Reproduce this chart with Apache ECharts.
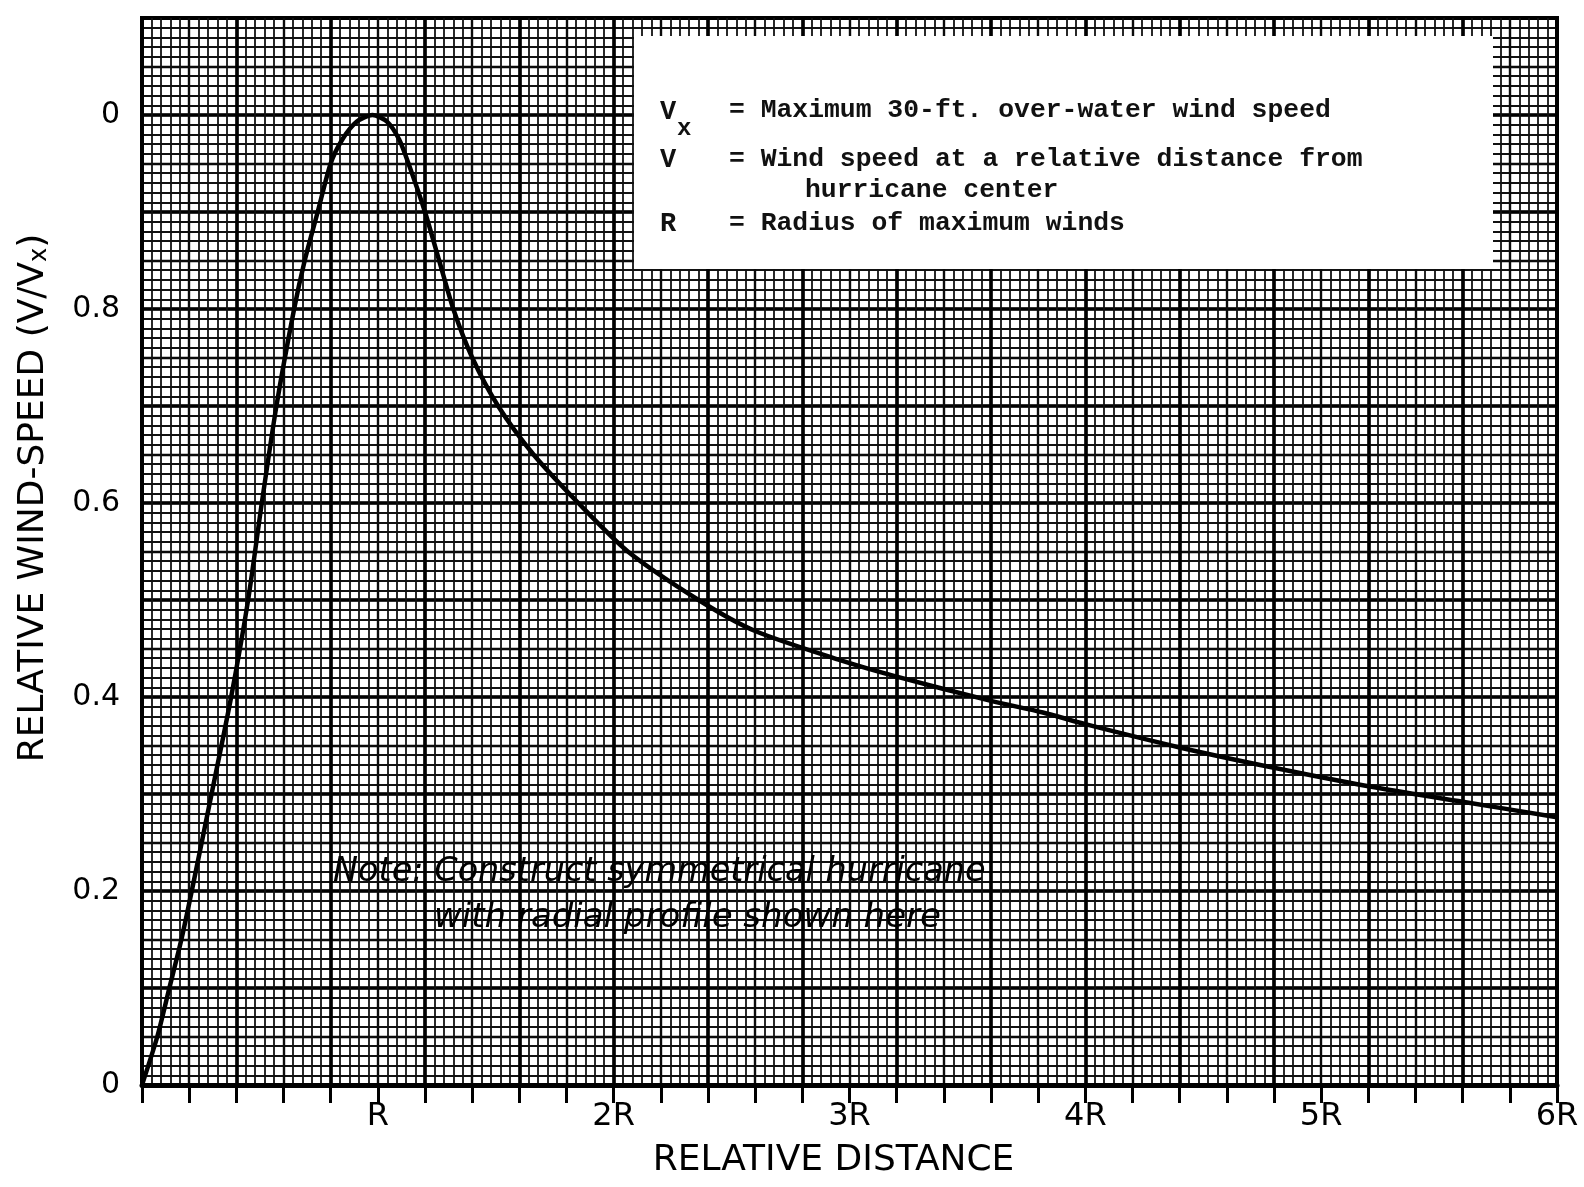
<!DOCTYPE html>
<html>
<head>
<meta charset="utf-8">
<script src="https://cdn.jsdelivr.net/npm/echarts@6/dist/echarts.min.js"></script>
<style>
  html, body { margin: 0; padding: 0; background: #ffffff; }
  #chart { width: 1584px; height: 1187px; }
</style>
</head>
<body>
<div id="chart"></div>
<script>
// ---- data ----
const distance = [0, 0.065, 0.116, 0.167, 0.211, 0.295, 0.378, 0.45, 0.508, 0.57, 0.645, 0.69, 0.745, 0.80, 0.85, 0.91, 0.977,
  1.04, 1.09, 1.13, 1.20, 1.26, 1.32, 1.40, 1.51, 1.66, 1.85, 2.06, 2.36, 2.6, 2.96, 3.2, 3.6, 3.82, 4.0, 4.4, 4.8, 5.2, 5.6, 6.0];
const relSpeed = [0, 0.05, 0.1, 0.15, 0.2, 0.3, 0.4, 0.5, 0.6, 0.7, 0.8, 0.85, 0.9, 0.95, 0.975, 0.993, 1.0,
  0.993, 0.975, 0.95, 0.9, 0.85, 0.8, 0.75, 0.7, 0.65, 0.6, 0.55, 0.5, 0.468, 0.438, 0.421, 0.396, 0.384, 0.372, 0.348, 0.327, 0.308, 0.292, 0.276];
const xTickValues = [0, 1, 2, 3, 4, 5, 6];
const xTickLabels = ['', 'R', '2R', '3R', '4R', '5R', '6R'];
const yTickValues = [0, 0.2, 0.4, 0.6, 0.8, 1.0];
const yTickLabels = ['0', '0.2', '0.4', '0.6', '0.8', '0'];
const legendSymbols = ['V', 'V', 'R'];
const legendLines = ['= Maximum 30-ft. over-water wind speed', '= Wind speed at a relative distance from', '= Radius of maximum winds'];
const legendCont = 'hurricane center';
const noteLines = ['Note: Construct symmetrical hurricane', 'with radial profile shown here'];
const xTitle = 'RELATIVE DISTANCE';
const yTitle = 'RELATIVE WIND-SPEED (V/V';

function lookup(vals, labels, v) {
  for (let i = 0; i < vals.length; i++) if (Math.abs(vals[i] - v) < 1e-6) return labels[i];
  return '';
}

const chart = echarts.init(document.getElementById('chart'), null, { renderer: 'canvas' });
const FONT = 'DejaVu Sans';

const hiddenX = (interval, extra) => Object.assign({
  type: 'value', min: 0, max: 6, interval: interval, gridIndex: 0,
  axisLabel: { show: false }, axisLine: { show: false }, axisTick: { show: false }
}, extra);
const hiddenY = (interval, extra) => Object.assign({
  type: 'value', min: 0, max: 1.1, interval: interval, gridIndex: 0,
  axisLabel: { show: false }, axisLine: { show: false }, axisTick: { show: false }
}, extra);

const legendFont = 'bold 26.4px "Liberation Mono"';

const option = {
  backgroundColor: '#ffffff',
  animation: false,
  grid: { left: 142, right: 27, top: 18, bottom: 102, show: true, borderColor: '#000', borderWidth: 4, backgroundColor: '#fff' },
  xAxis: [
    {
      type: 'value', min: 0, max: 6, interval: 1, gridIndex: 0,
      axisLine: { show: true, lineStyle: { color: '#000', width: 5 } },
      axisTick: { show: false },
      splitLine: { show: false },
      axisLabel: {
        margin: 16, color: '#000', fontFamily: FONT, fontSize: 32,
        formatter: v => lookup(xTickValues, xTickLabels, v)
      },
      name: xTitle, nameLocation: 'middle', nameGap: 58,
      nameTextStyle: { color: '#000', fontFamily: FONT, fontSize: 36, padding: [0, 32, 0, 0] }
    },
    hiddenX(0.2, {
      splitLine: { show: true, lineStyle: { color: '#0a0a0a', width: 2.4 } },
      minorTick: { show: false, splitNumber: 5 },
      minorSplitLine: { show: true, lineStyle: { color: '#111', width: 1.8 } },
      axisTick: { show: true, inside: true, length: 18, lineStyle: { color: '#000', width: 3 } }
    }),
    hiddenX(0.4, {
      splitLine: { show: true, lineStyle: { color: '#000', width: 3.6 } }
    })
  ],
  yAxis: [
    {
      type: 'value', min: 0, max: 1.1, interval: 0.2, gridIndex: 0,
      axisLine: { show: true, lineStyle: { color: '#000', width: 4 } },
      axisTick: { show: false },
      splitLine: { show: false },
      axisLabel: {
        margin: 22, color: '#000', fontFamily: FONT, fontSize: 30,
        formatter: v => lookup(yTickValues, yTickLabels, v)
      }
    },
    hiddenY(0.05, {
      splitLine: { show: true, lineStyle: { color: '#0a0a0a', width: 2.4 } },
      minorTick: { show: false, splitNumber: 5 },
      minorSplitLine: { show: true, lineStyle: { color: '#111', width: 1.8 } }
    }),
    hiddenY(0.1, {
      splitLine: { show: true, lineStyle: { color: '#000', width: 3.6 } }
    })
  ],
  series: [{
    type: 'line',
    xAxisIndex: 0, yAxisIndex: 0,
    data: distance.map((d, i) => [d, relSpeed[i]]),
    showSymbol: false,
    smooth: 0.25,
    lineStyle: { color: '#000', width: 4.5 },
    z: 10
  }],
  graphic: [
    {
      type: 'text', x: 34, y: 498, rotation: Math.PI / 2, z: 50,
      style: {
        text: yTitle + '{s|x}' + ')',
        fill: '#000', font: '36px "DejaVu Sans"', align: 'center', verticalAlign: 'middle',
        rich: { s: { fontSize: 24, fontFamily: FONT, fill: '#000', verticalAlign: 'bottom', padding: [10, 0, 0, 0] } }
      }
    },
    { type: 'rect', z: 60, shape: { x: 634, y: 36, width: 859, height: 233 }, style: { fill: '#fff' } },
    { type: 'text', z: 61, x: 660, y: 112, style: { text: legendSymbols[0], font: 'bold 27px "Liberation Mono"', fill: '#111', verticalAlign: 'middle' } },
    { type: 'text', z: 61, x: 677, y: 129, style: { text: 'x', font: 'bold 24px "Liberation Mono"', fill: '#111', verticalAlign: 'middle' } },
    { type: 'text', z: 61, x: 729, y: 110, style: { text: legendLines[0], font: legendFont, fill: '#111', verticalAlign: 'middle' } },
    { type: 'text', z: 61, x: 660, y: 160, style: { text: legendSymbols[1], font: 'bold 27px "Liberation Mono"', fill: '#111', verticalAlign: 'middle' } },
    { type: 'text', z: 61, x: 729, y: 159, style: { text: legendLines[1], font: legendFont, fill: '#111', verticalAlign: 'middle' } },
    { type: 'text', z: 61, x: 805, y: 190, style: { text: legendCont, font: legendFont, fill: '#111', verticalAlign: 'middle' } },
    { type: 'text', z: 61, x: 660, y: 224, style: { text: legendSymbols[2], font: 'bold 27px "Liberation Mono"', fill: '#111', verticalAlign: 'middle' } },
    { type: 'text', z: 61, x: 729, y: 223, style: { text: legendLines[2], font: legendFont, fill: '#111', verticalAlign: 'middle' } },
    { type: 'text', z: 61, x: 333, y: 872, style: { text: noteLines[0], font: 'italic 33.5px "DejaVu Sans"', fill: '#000', verticalAlign: 'middle' } },
    { type: 'text', z: 61, x: 434, y: 918, style: { text: noteLines[1], font: 'italic 34px "DejaVu Sans"', fill: '#000', verticalAlign: 'middle' } }
  ]
};
chart.setOption(option);
</script>
</body>
</html>
